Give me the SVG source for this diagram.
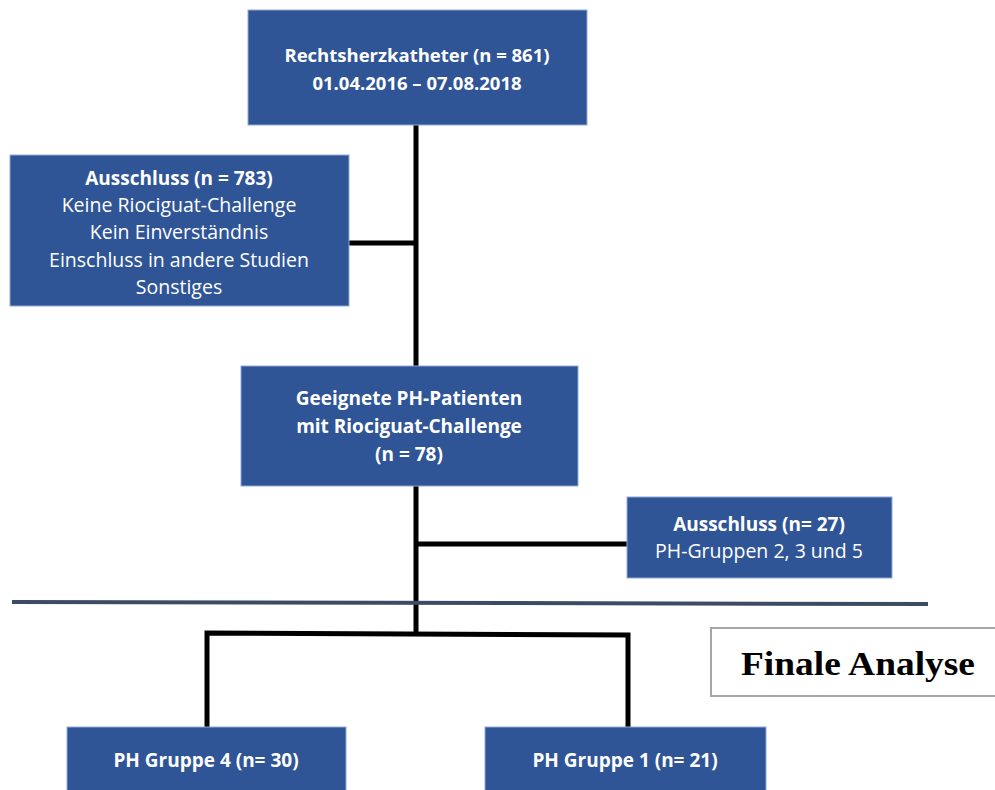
<svg xmlns="http://www.w3.org/2000/svg" width="995" height="790" viewBox="0 0 995 790">
<style>
.box{fill:#2F5597;stroke:#8FA9D6;stroke-width:1}
.t{font-family:"Open Sans","Liberation Sans",sans-serif;font-size:19.5px;fill:#ffffff;text-anchor:middle}
.b{font-weight:bold;font-size:19px}
.c{fill:none;stroke:#000;stroke-width:5}
</style>
<rect width="995" height="790" fill="#fff"/>
<g id="connectors">
<line class="c" x1="416" y1="125" x2="416" y2="366"/>
<line class="c" x1="349" y1="243" x2="418" y2="243"/>
<line class="c" x1="416" y1="486" x2="416" y2="634"/>
<line class="c" x1="414" y1="544" x2="627" y2="544"/>
<polyline class="c" points="207,727 207,633 628,635 628,727"/>
</g>
<line id="divider" x1="12" y1="602" x2="928" y2="604" stroke="#3B4B63" stroke-width="4"/>
<g id="n1">
<rect class="box" x="248" y="10" width="339" height="115"/>
<text class="t b" x="417" y="62" style="font-size:18.5px">Rechtsherzkatheter (n = 861)</text>
<text class="t b" x="417" y="90" style="font-size:18.5px">01.04.2016 – 07.08.2018</text>
</g>
<g id="n2">
<rect class="box" x="10" y="155" width="339" height="151"/>
<text class="t b" x="179" y="185">Ausschluss (n = 783)</text>
<text class="t" x="179" y="212">Keine Riociguat-Challenge</text>
<text class="t" x="179" y="239">Kein Einverständnis</text>
<text class="t" x="179" y="267">Einschluss in andere Studien</text>
<text class="t" x="179" y="294">Sonstiges</text>
</g>
<g id="n3">
<rect class="box" x="241" y="366" width="337" height="120"/>
<text class="t b" x="409" y="405">Geeignete PH-Patienten</text>
<text class="t b" x="409" y="433">mit Riociguat-Challenge</text>
<text class="t b" x="409" y="461">(n = 78)</text>
</g>
<g id="n4">
<rect class="box" x="627" y="497" width="265" height="81"/>
<text class="t b" x="759" y="531">Ausschluss (n= 27)</text>
<text class="t" x="759" y="558">PH-Gruppen 2, 3 und 5</text>
</g>
<g id="n5">
<rect x="711" y="628" width="290" height="68" fill="#fff" stroke="#A6A6A6" stroke-width="2"/>
<text x="858" y="675" font-family="Liberation Serif, serif" font-weight="bold" font-size="34" text-anchor="middle" fill="#000" textLength="234" lengthAdjust="spacingAndGlyphs">Finale Analyse</text>
</g>
<g id="n6">
<rect class="box" x="67" y="727" width="279" height="70"/>
<text class="t b" x="206" y="767">PH Gruppe 4 (n= 30)</text>
</g>
<g id="n7">
<rect class="box" x="485" y="727" width="281" height="70"/>
<text class="t b" x="625" y="767">PH Gruppe 1 (n= 21)</text>
</g>
</svg>
